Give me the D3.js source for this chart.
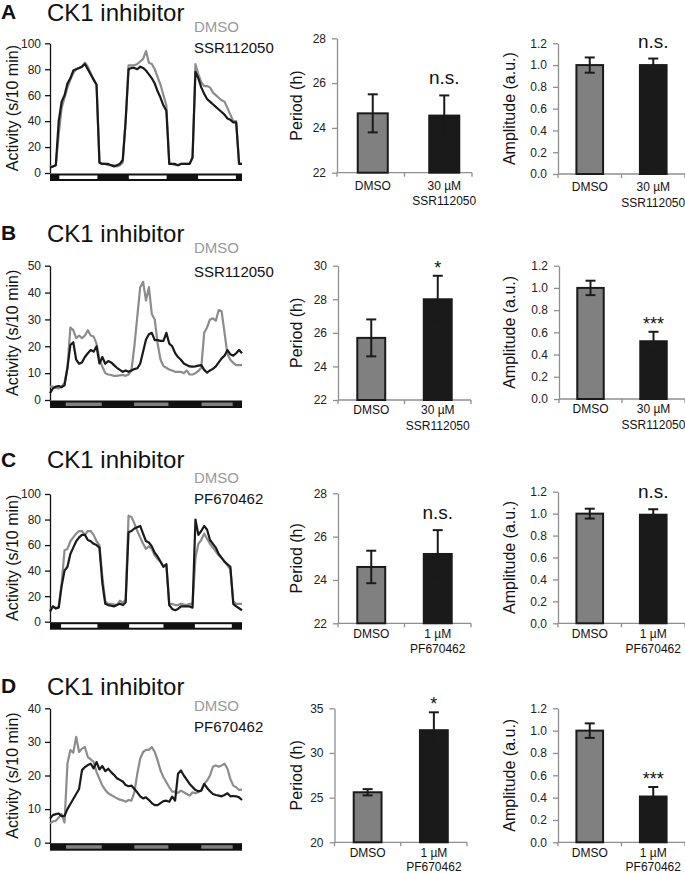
<!DOCTYPE html>
<html><head><meta charset="utf-8">
<script src="https://cdn.jsdelivr.net/npm/d3@7"></script>
<style>body{margin:0;background:#fff}svg{display:block}text{font-family:"Liberation Sans",Arial,sans-serif}</style>
</head><body>
<svg id="fig" width="685" height="873"></svg>
<script>
// ---------- DATA ----------
const hours = [0,1,2,3,4,5,6,7,8,9,10,11,12,13,14,15,16,17,18,19,20,21,22,23,24,25,26,27,28,29,30,31,32,33,34,35,36,37,38,39,40,41,42,43,44,45,46,47,48,49,50,51,52,53,54,55,56,57,58,59,60,61,62,63,64,65,66];

const actA_DMSO = [5,5,6,30,50,58,66,72,77,80, 81,82,85,82,77,72,68,8,7,7, 6,6,6,5,6,8,40,83,83,83, 84,86,88,94,85,84,80,74,68,60, 52,7,7,6,6,7,7,7,7,12, 84,76,70,67,67,66,62,60,58,56, 55,50,45,40,40,7,7];
const actA_SSR  = [4,5,6,40,55,60,69,73,79,80, 81,82,84,80,76,72,68,8,7,7, 7,6,5,6,7,10,40,80,81,81, 80,82,81,79,76,73,69,63,58,52, 48,7,7,7,6,7,7,7,7,12, 78,73,66,61,57,55,53,51,49,47, 45,42,41,39,39,7,7];

const actB_DMSO = [5,5,4.5,4.3,5,6.5,12,27,26,23, 24,23,24,26,24,23.6,21,15,12.4,10, 9.5,9.3,9,9,9.2,9.3,9,9.5,11,20, 31,42,44,37,42,32,30,21,15,12.6, 12,11.3,11,10.5,10.5,10.5,10,11,9.5,9.5, 10,10.8,12,25,27,30,30.4,29.5,33.5,33, 25,17,15,13.8,13,13,13];
const actB_SSR  = [2.5,4.3,5,5.2,4.8,5.5,12,20.5,21.5,15, 13.5,14,16,17.4,18.6,18,20,13.6,16,13.5, 14.5,14,13,12,11.2,10.5,11,10.5,11,11.5, 11.8,13.5,18,22.5,24.5,25,22.3,22.3,22,22, 25,21,20,17.5,16,15,13.6,13,12.5,12.4, 12.5,12.8,13,11.2,10.2,11,11.6,12.5,14,15.5, 16.5,18.6,17,16.5,17.4,18.6,17.4];

const actC_DMSO = [9,12,10,12,30,56,57,63,66,69, 71,71,68,71,71,68,63,60,35,16, 14,14,13.5,13,16.4,15,17,83,82,77, 71,66,61,57,59,57,52,49,47,43, 45,13,14,13,13,14,13.5,13,14,14, 50,61,64,69,65,61,58,55,52,50, 47,44,41,16,14,14,14];
const actC_PF   = [8,12,10.5,11,28,40,43,53,58,63, 66,68,68,64,63,61,60,58,30,14, 13,12.5,12,13,14,13,15,70,71,73, 74,75,69,63,62,59,54,51,47,43, 45,13,10,9,10,12,12,12,12,11, 80,68,71,75,72,64,61,58,53,50, 47,45,43,14,12,10.5,9];

const actD_DMSO = [5.8,6.3,6.5,7.5,8.5,6,23.6,27.6,26.8,31.5, 27,28,28.5,25.5,24.8,24,21,19,17,15.7, 14.7,14.2,13.7,13.2,12.8,12.6,12.2,12.7,12.5,15, 20.5,25,27,27.6,27.6,28.5,27,24.5,21.5,19.5, 18,16.5,15.2,15.2,14.8,15.5,15,14.5,14,15, 14.7,15,15.6,17.5,18.5,20,22.6,23,22.6,23, 23.5,22,19,17,16.5,15.7,15.8];
const actD_PF   = [7.2,8.2,8.5,8.7,7.9,8,10,11.5,13,14.5, 16,21.6,22.5,23.1,23.5,22.1,24,21.8,22.8,21.3, 22,21,20.2,19.2,18.7,18.2,17.2,16.8,17,16, 15,13.8,13.2,13.5,12.7,11.8,11.2,11.2,11.8,12.4, 12.5,12.2,13.7,12.5,20.5,21.5,20,18.8,17.5,16.6, 15.7,15.3,15.5,17.5,16.3,15.3,14.5,14.2,14,13.8, 14.2,14.7,13.8,13.9,13.8,13.5,12.7];

// light phases (hours) drawn inside the light/dark bar
const lightA = [[3.2,16.3],[27.1,40.1],[50.9,63.9]];
const lightB = [[5.4,17.8],[28.9,40.7],[52.1,62.8]];
const lightC = [[3.8,16.3],[27.2,39.0],[49.8,62.5]];
const lightD = [[5.5,17.8],[29.0,40.7],[52.0,62.8]];

const actTicksA = [0,20,40,60,80,100];
const actTicksB = [0,10,20,30,40,50];
const actTicksC = [0,20,40,60,80,100];
const actTicksD = [0,10,20,30,40];

const drugA = "SSR112050", drugB = "SSR112050", drugC = "PF670462", drugD = "PF670462";
const catsA = [["DMSO"],["30 µM","SSR112050"]];
const catsB = [["DMSO"],["30 µM","SSR112050"]];
const catsC = [["DMSO"],["1 µM","PF670462"]];
const catsD = [["DMSO"],["1 µM","PF670462"]];

const periodA = [24.65,24.55], periodErrA = [0.85,0.9];
const periodB = [25.7,28.0],   periodErrB = [1.1,1.4];
const periodC = [24.6,25.2],   periodErrC = [0.75,1.1];
const periodD = [25.6,32.55],  periodErrD = [0.35,2.0];

const ampA = [1.0,1.0],  ampErrA = [0.07,0.06];
const ampB = [1.0,0.52], ampErrB = [0.065,0.085];
const ampC = [1.0,0.99], ampErrC = [0.045,0.05];
const ampD = [1.0,0.41], ampErrD = [0.065,0.085];

const periodTicksA = [22,24,26,28], periodTicksB = [22,24,26,28,30], periodTicksC = [22,24,26,28], periodTicksD = [20,25,30,35];
const ampTicks = [0,0.2,0.4,0.6,0.8,1.0,1.2];

const sigPeriod = ["n.s.","*","n.s.","*"];
const sigAmp = ["n.s.","***","n.s.","***"];

// ---------- LAYOUT ----------
const GRAY_LINE = "#8c8c8c", BLACK = "#1a1a1a", GRAY_BAR = "#808080", AXIS_GRAY = "#8f8f8f";
const svg = d3.select("#fig");

const rows = [
  {letter:"A", letterY:18.5, titleY:20.5, legY:[31.7,53.3], ly:[43.3,173], yMax:100, ticks:actTicksA, g:actA_DMSO, k:actA_SSR, drug:drugA, light:lightA, lightFill:"#ffffff",
   per:{x:[337,480], axisEnd:472, y:[38.3,172.7], dom:[22,28], ticks:periodTicksA, m:periodA, e:periodErrA, sig:sigPeriod[0]},
   amp:{x:[558,685], y:[43.3,174], m:ampA, e:ampErrA, sig:sigAmp[0]}, cats:catsA, catDy:17, catGap:15.5},
  {letter:"B", letterY:240, titleY:241.7, legY:[253.3,277.3], ly:[265.7,400], yMax:50, ticks:actTicksB, g:actB_DMSO, k:actB_SSR, drug:drugB, light:lightB, lightFill:GRAY_BAR,
   per:{x:[338,471], y:[265.7,400], dom:[22,30], ticks:periodTicksB, m:periodB, e:periodErrB, sig:sigPeriod[1]},
   amp:{x:[559,685], y:[265.7,399], m:ampB, e:ampErrB, sig:sigAmp[1]}, cats:catsB, catDy:14, catGap:15.5},
  {letter:"C", letterY:467, titleY:468, legY:[483.3,504.3], ly:[494,621.7], yMax:100, ticks:actTicksC, g:actC_DMSO, k:actC_PF, drug:drugC, light:lightC, lightFill:"#ffffff",
   per:{x:[338,471], y:[493.3,623.3], dom:[22,28], ticks:periodTicksC, m:periodC, e:periodErrC, sig:sigPeriod[2]},
   amp:{x:[558,685], y:[491.7,623.3], m:ampC, e:ampErrC, sig:sigAmp[2]}, cats:catsC, catDy:14.5, catGap:15.5},
  {letter:"D", letterY:693, titleY:695, legY:[710.7,731.7], ly:[708.3,842.7], yMax:40, ticks:actTicksD, g:actD_DMSO, k:actD_PF, drug:drugD, light:lightD, lightFill:GRAY_BAR,
   per:{x:[334.5,467], y:[708.3,842.3], dom:[20,35], ticks:periodTicksD, m:periodD, e:periodErrD, sig:sigPeriod[3]},
   amp:{x:[558,685], y:[708.3,842.3], m:ampD, e:ampErrD, sig:sigAmp[3]}, cats:catsD, catDy:15, catGap:13.5}
];

function styleAxis(g, col){
  g.select(".domain").attr("stroke", col).attr("stroke-width", 1.3);
  g.selectAll(".tick line").attr("stroke", col).attr("stroke-width", 1.3);
  g.selectAll(".tick text").attr("fill", "#222").style("font-size", "12px").style("font-family", '"Liberation Sans",Arial,sans-serif');
}

rows.forEach(r => {
  // letter, title, legend
  svg.append("text").attr("x", 1).attr("y", r.letterY).text(r.letter)
    .style("font-size", "21px").style("font-weight", "bold").attr("fill", "#111");
  svg.append("text").attr("x", 47).attr("y", r.titleY).text("CK1 inhibitor")
    .style("font-size", "24px").attr("fill", "#111");
  svg.append("text").attr("x", 194).attr("y", r.legY[0]).text("DMSO")
    .style("font-size", "15px").attr("fill", "#999");
  svg.append("text").attr("x", 194).attr("y", r.legY[1]).text(r.drug)
    .style("font-size", "15px").attr("fill", "#111");

  // ---- activity line chart ----
  const x = d3.scaleLinear().domain([hours[0], hours[hours.length-1]]).range([50, 242]);
  const y = d3.scaleLinear().domain([0, r.yMax]).range([r.ly[1], r.ly[0]]);
  const ay = svg.append("g").attr("transform", `translate(50,0)`)
    .call(d3.axisLeft(y).tickValues(r.ticks).tickSize(5).tickSizeOuter(0).tickPadding(4));
  styleAxis(ay, "#111");
  svg.append("text").attr("transform", `translate(18,${(r.ly[0]+r.ly[1])/2}) rotate(-90)`)
    .attr("text-anchor", "middle").text("Activity (s/10 min)").style("font-size", "16px").attr("fill", "#111");
  // light/dark bar
  const by = r.ly[1] + 0.5;
  svg.append("rect").attr("x", x(hours[0])).attr("y", by).attr("width", x(hours[hours.length-1]) - x(hours[0])).attr("height", 7.5).attr("fill", "#111");
  svg.selectAll(null).data(r.light).enter().append("rect")
    .attr("x", d => x(d[0])).attr("width", d => x(d[1]) - x(d[0]))
    .attr("y", by + 2).attr("height", 3.5).attr("fill", r.lightFill);
  const line = d3.line().x((d, i) => x(hours[i])).y(d => y(d));
  svg.append("path").datum(r.g).attr("d", line).attr("fill", "none").attr("stroke", GRAY_LINE).attr("stroke-width", 2.2).attr("stroke-linejoin", "round");
  svg.append("path").datum(r.k).attr("d", line).attr("fill", "none").attr("stroke", BLACK).attr("stroke-width", 2.2).attr("stroke-linejoin", "round");

  // ---- bar charts ----
  function bars(c, dom, ticks, fmt, label, labelX) {
    const xb = d3.scaleBand().domain([0, 1]).range(c.x).paddingInner(0.58).paddingOuter(0.29);
    const yb = d3.scaleLinear().domain(dom).range([c.y[1], c.y[0]]);
    const axisEnd = c.axisEnd || c.x[1];
    const gy = svg.append("g").attr("transform", `translate(${c.x[0]},0)`)
      .call(d3.axisLeft(yb).tickValues(ticks).tickFormat(fmt).tickSize(5).tickSizeOuter(0).tickPadding(6));
    styleAxis(gy, AXIS_GRAY);
    svg.append("line").attr("x1", c.x[0]).attr("x2", axisEnd).attr("y1", c.y[1]).attr("y2", c.y[1]).attr("stroke", AXIS_GRAY).attr("stroke-width", 1.3);
    const bounds = [c.x[0], (c.x[0] + axisEnd) / 2, axisEnd];
    svg.selectAll(null).data(bounds).enter().append("line")
      .attr("x1", d => d).attr("x2", d => d).attr("y1", c.y[1]).attr("y2", c.y[1] + 4).attr("stroke", AXIS_GRAY).attr("stroke-width", 1.3);
    svg.append("text").attr("transform", `translate(${labelX},${(c.y[0]+c.y[1])/2}) rotate(-90)`)
      .attr("text-anchor", "middle").text(label).style("font-size", "16px").attr("fill", "#111");
    const vals = c.m.map((m, i) => ({i, m, e: c.e[i]}));
    svg.selectAll(null).data(vals).enter().append("rect")
      .attr("x", d => xb(d.i)).attr("width", xb.bandwidth())
      .attr("y", d => yb(d.m)).attr("height", d => yb(dom[0]) - yb(d.m))
      .attr("fill", d => d.i === 0 ? GRAY_BAR : BLACK).attr("stroke", BLACK).attr("stroke-width", 2);
    vals.forEach(d => {
      const cx = xb(d.i) + xb.bandwidth() / 2;
      const g = svg.append("g").attr("stroke", BLACK).attr("stroke-width", 2);
      g.append("line").attr("x1", cx).attr("x2", cx).attr("y1", yb(d.m - d.e)).attr("y2", yb(d.m + d.e));
      g.append("line").attr("x1", cx - 5).attr("x2", cx + 5).attr("y1", yb(d.m + d.e)).attr("y2", yb(d.m + d.e));
      g.append("line").attr("x1", cx - 5).attr("x2", cx + 5).attr("y1", yb(d.m - d.e)).attr("y2", yb(d.m - d.e));
      r.cats[d.i].forEach((t, j) => {
        svg.append("text").attr("x", cx).attr("y", c.y[1] + r.catDy + j * r.catGap).attr("text-anchor", "middle")
          .text(t).style("font-size", "12px").attr("fill", "#111");
      });
    });
    const d1 = vals[1], cx1 = xb(1) + xb.bandwidth() / 2, top = yb(d1.m + d1.e);
    const star = c.sig.indexOf("*") >= 0;
    svg.append("text").attr("x", cx1).attr("y", star ? top - 2 : top - 11).attr("text-anchor", "middle")
      .text(c.sig).style("font-size", star ? "18px" : "19px").attr("fill", "#111");
  }
  bars(r.per, r.per.dom, r.per.ticks, d3.format("d"), "Period (h)", 302);
  bars(r.amp, [0, 1.2], ampTicks, d3.format(".1f"), "Amplitude (a.u.)", 515);
});
</script>
</body></html>
